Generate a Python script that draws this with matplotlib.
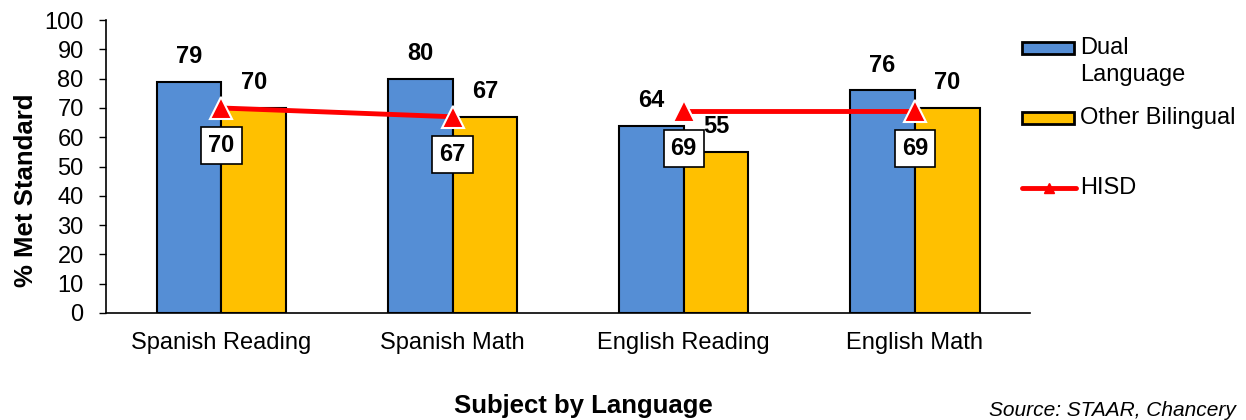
import numpy as np
import matplotlib.pyplot as plt
from matplotlib.patches import Rectangle
from matplotlib.lines import Line2D

plt.rcParams['font.family'] = ['Liberation Sans', 'DejaVu Sans']

categories = ["Spanish Reading", "Spanish Math", "English Reading", "English Math"]
dual_language = [79, 80, 64, 76]
other_bilingual = [70, 67, 55, 70]
hisd = [70, 67, 69, 69]
y_ticks = list(range(0, 101, 10))

BLUE = "#558ED5"
GOLD = "#FFC000"
RED = "#FF0000"

fig = plt.figure(figsize=(12.46, 4.2), dpi=100)
ax = fig.add_axes([0.085, 0.255, 0.742, 0.697])

x = np.arange(len(categories))
w = 0.28
b1 = ax.bar(x - w/2, dual_language, w, color=BLUE, edgecolor="black", lw=1.5, zorder=2)
b2 = ax.bar(x + w/2, other_bilingual, w, color=GOLD, edgecolor="black", lw=1.5, zorder=2)

for bars in (b1, b2):
    for r in bars:
        ax.annotate(f"{r.get_height():g}", (r.get_x() + r.get_width()/2, r.get_height()),
                    xytext=(0, 18), textcoords="offset points", ha="center", va="center",
                    fontsize=17, fontweight="bold")

# HISD line: break between Spanish and English
line_kw = dict(color=RED, lw=3.5, marker="^", ms=16, mfc=RED, mec="white", mew=1.5, zorder=4)
ax.plot(x[:2], hisd[:2], **line_kw)
ax.plot(x[2:], hisd[2:], **line_kw)
for xi, v in zip(x, hisd):
    ax.annotate(f"{v}", (xi, v), xytext=(0, -27), textcoords="offset points",
                ha="center", va="center", fontsize=17, fontweight="bold", zorder=5,
                bbox=dict(boxstyle="square,pad=0.3", fc="white", ec="black", lw=1.2))

ax.set_xlim(-0.5, 3.5)
ax.set_ylim(0, 100)
ax.set_yticks(y_ticks)
ax.tick_params(axis="y", labelsize=17, length=5, width=1, direction="out", pad=11)
ax.set_xticks(x)
ax.set_xticklabels(categories, fontsize=17)
ax.tick_params(axis="x", length=0, pad=14)
for s in ("top", "right"):
    ax.spines[s].set_visible(False)
for s in ("left", "bottom"):
    ax.spines[s].set_linewidth(1.2)

fig.text(0.021, 0.546, "% Met Standard", rotation=90, ha="center", va="center",
         fontsize=18.5, fontweight="bold")
fig.text(0.468, 0.033, "Subject by Language", ha="center", va="center",
         fontsize=18.5, fontweight="bold")
fig.text(0.992, 0.022, "Source: STAAR, Chancery", ha="right", va="center",
         fontsize=15, style="italic")

# legend, drawn by hand so "Dual" lines up with its swatch
def fy(py):
    return 1 - py / 420

def fx(px):
    return px / 1246

sw, sh = fx(1074) - fx(1022), 12 / 420
for py, col in ((48, BLUE), (118, GOLD)):
    fig.patches.append(Rectangle((fx(1022), fy(py) - sh/2), sw, sh, transform=fig.transFigure,
                                 fc=col, ec="black", lw=2))
fig.lines.append(Line2D([fx(1022), fx(1076)], [fy(188), fy(188)], transform=fig.transFigure,
                        color=RED, lw=3.5, solid_capstyle="round"))
fig.lines.append(Line2D([fx(1049)], [fy(188)], transform=fig.transFigure, color=RED,
                        marker="^", ms=7, mec=RED))
fig.text(fx(1080), fy(48), "Dual", ha="left", va="center", fontsize=17)
fig.text(fx(1080), fy(75), "Language", ha="left", va="center", fontsize=17)
fig.text(fx(1080), fy(118), "Other Bilingual", ha="left", va="center", fontsize=17)
fig.text(fx(1080), fy(188), "HISD", ha="left", va="center", fontsize=17)

fig.savefig("out.png", dpi=100)
